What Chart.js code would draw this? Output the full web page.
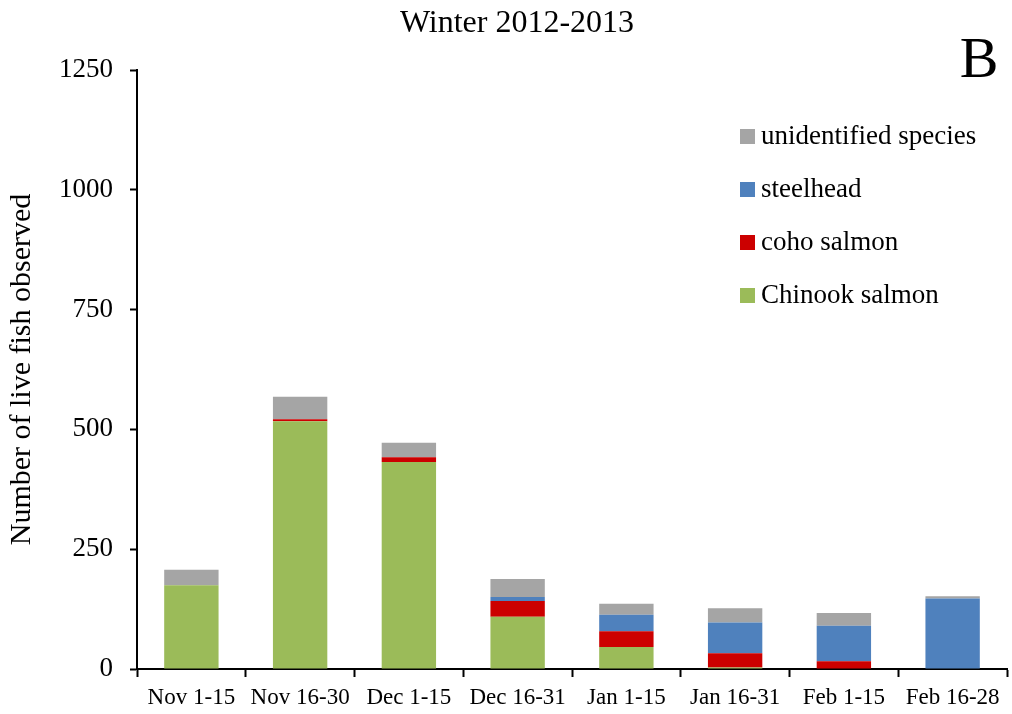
<!DOCTYPE html>
<html>
<head>
<meta charset="utf-8">
<title>Winter 2012-2013</title>
<script src="https://cdn.jsdelivr.net/npm/chart.js@4.4.1/dist/chart.umd.min.js"></script>
<style>
    html, body { margin: 0; padding: 0; background: #fff; }
    #wrap { width: 1012px; height: 714px; }
</style>
</head>
<body>
<div id="wrap"><canvas id="fishChart" width="1012" height="714"></canvas></div>
<script>
// Half-month periods
const periods = ['Nov 1-15', 'Nov 16-30', 'Dec 1-15', 'Dec 16-31', 'Jan 1-15', 'Jan 16-31', 'Feb 1-15', 'Feb 16-28'];

// Live fish counts per species
const chinook = [175, 517, 432, 109, 46, 3, 0, 0];
const coho = [0, 4, 10, 33, 33, 30, 16, 0];
const steelhead = [0, 0, 0, 8, 34, 64, 74, 147];
const unidentified = [32, 47, 30, 38, 23, 30, 27, 5];

const yTicks = [0, 250, 500, 750, 1000, 1250];

const chartTitle = 'Winter 2012-2013';
const panelLetter = 'B';
const yTitle = 'Number of live fish observed';

const SERIF = '"Liberation Serif", "Times New Roman", serif';

// Title, panel letter and in-plot legend drawn on the canvas
const overlayPlugin = {
    id: 'overlay',
    afterDraw: (chart) => {
        const ctx = chart.ctx;
        ctx.save();
        ctx.fillStyle = '#000';
        ctx.textBaseline = 'alphabetic';

        ctx.font = '32px ' + SERIF;
        ctx.textAlign = 'center';
        ctx.fillText(chartTitle, 517, 32);

        ctx.font = '58px ' + SERIF;
        ctx.fillText(panelLetter, 979, 77);

        // legend, top item = last dataset
        const sets = chart.data.datasets.slice().reverse();
        ctx.font = '27px ' + SERIF;
        ctx.textAlign = 'left';
        ctx.textBaseline = 'middle';
        sets.forEach((ds, i) => {
            const cy = 136 + i * 53;
            ctx.fillStyle = ds.backgroundColor;
            ctx.fillRect(740, cy - 7, 15, 15);
            ctx.fillStyle = '#000';
            ctx.fillText(ds.label, 761, cy + 1);
        });
        ctx.restore();
    },
};

const ctx = document.getElementById('fishChart').getContext('2d');

new Chart(ctx, {
    type: 'bar',
    data: {
        labels: periods,
        datasets: [
            { label: 'Chinook salmon', data: chinook, backgroundColor: '#9BBB59' },
            { label: 'coho salmon', data: coho, backgroundColor: '#CC0000' },
            { label: 'steelhead', data: steelhead, backgroundColor: '#4F81BD' },
            { label: 'unidentified species', data: unidentified, backgroundColor: '#A5A5A5' },
        ],
    },
    options: {
        responsive: false,
        devicePixelRatio: 1,
        animation: false,
        layout: { padding: { top: 70, right: 5, left: 0, bottom: 0 } },
        datasets: { bar: { barPercentage: 0.5, categoryPercentage: 1.0 } },
        plugins: {
            legend: { display: false },
            title: { display: false },
            tooltip: { enabled: false },
        },
        scales: {
            x: {
                stacked: true,
                offset: true,
                afterFit: (scale) => { scale.height = 45; },
                grid: {
                    offset: true,
                    drawOnChartArea: false,
                    drawTicks: true,
                    tickLength: 8,
                    tickWidth: 2,
                    tickColor: '#000',
                },
                border: { display: true, color: '#000', width: 2 },
                ticks: {
                    color: '#000',
                    font: { family: SERIF, size: 23 },
                    padding: 7,
                    maxRotation: 0,
                    autoSkip: false,
                },
            },
            y: {
                stacked: true,
                min: 0,
                max: 1250,
                afterFit: (scale) => { scale.width = 137; },
                afterBuildTicks: (scale) => { scale.ticks = yTicks.map((v) => ({ value: v })); },
                grid: {
                    drawOnChartArea: false,
                    drawTicks: true,
                    tickLength: 7,
                    tickWidth: 2,
                    tickColor: '#000',
                },
                border: { display: true, color: '#000', width: 2 },
                ticks: {
                    color: '#000',
                    font: { family: SERIF, size: 27 },
                    padding: 17,
                    callback: (v) => String(v),
                },
                title: {
                    display: true,
                    text: yTitle,
                    color: '#000',
                    font: { family: SERIF, size: 30 },
                    padding: { top: 4, bottom: 0 },
                },
            },
        },
    },
    plugins: [overlayPlugin],
});
</script>
</body>
</html>
